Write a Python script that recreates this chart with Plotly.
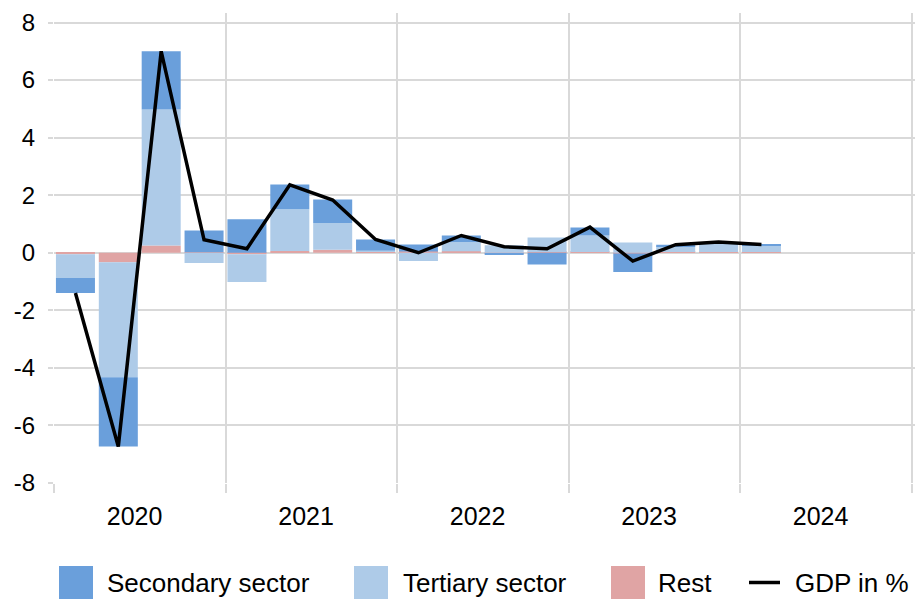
import plotly.graph_objects as go

# ---- data ----
quarters = ["2020Q1", "2020Q2", "2020Q3", "2020Q4",
            "2021Q1", "2021Q2", "2021Q3", "2021Q4",
            "2022Q1", "2022Q2", "2022Q3", "2022Q4",
            "2023Q1", "2023Q2", "2023Q3", "2023Q4",
            "2024Q1"]
secondary = [-0.52, -2.40, 2.02, 0.75, 1.16, 0.86, 0.82, 0.38,
             0.25, 0.23, -0.04, -0.41, 0.28, -0.64, 0.05, 0.01, 0.04]
tertiary = [-0.83, -4.00, 4.73, -0.36, -0.97, 1.45, 0.93, 0.04,
            -0.29, 0.32, 0.26, 0.50, 0.57, 0.36, 0.20, 0.33, 0.21]
rest = [-0.05, -0.33, 0.25, 0.02, -0.05, 0.06, 0.10, 0.04,
        0.04, 0.05, -0.02, 0.03, 0.03, -0.03, 0.03, 0.03, 0.03]
gdp = [-1.40, -6.73, 7.00, 0.45, 0.14, 2.36, 1.83, 0.46,
       0.00, 0.60, 0.21, 0.14, 0.89, -0.29, 0.28, 0.37, 0.29]

years = [2020, 2021, 2022, 2023, 2024]
year_labels = ["2020", "2021", "2022", "2023", "2024"]
y_ticks = [-8, -6, -4, -2, 0, 2, 4, 6, 8]
y_tick_labels = ["-8", "-6", "-4", "-2", "0", "2", "4", "6", "8"]
series_names = ["Secondary sector", "Tertiary sector", "Rest", "GDP in %"]

# ---- style ----
C_SEC = "#6A9FDB"
C_TER = "#AECBE8"
C_REST = "#E0A4A4"
C_GRID = "#D9D9D9"
FONT = "Liberation Sans, Arial, sans-serif"

W, H = 915, 601
ML, MR, MT, MB = 54, 0, 13, 118

x = [int(q[:4]) + (int(q[-1]) - 0.5) / 4 for q in quarters]

fig = go.Figure()
fig.add_trace(go.Bar(x=x, y=rest, name=series_names[2], marker_color=C_REST,
                     marker_line_width=0, showlegend=False))
fig.add_trace(go.Bar(x=x, y=tertiary, name=series_names[1], marker_color=C_TER,
                     marker_line_width=0, showlegend=False))
fig.add_trace(go.Bar(x=x, y=secondary, name=series_names[0], marker_color=C_SEC,
                     marker_line_width=0, showlegend=False))
fig.add_trace(go.Scatter(x=x, y=gdp, name=series_names[3], mode="lines",
                         line=dict(color="black", width=3.5), showlegend=False))

plot_w = W - ML - MR
plot_h = H - MT - MB
px_per_year = 171.5
x_end = years[0] + plot_w / px_per_year

fig.update_layout(
    width=W, height=H,
    margin=dict(l=ML, r=MR, t=MT, b=MB, autoexpand=False),
    paper_bgcolor="white", plot_bgcolor="white",
    barmode="relative", bargap=0.09,
    font=dict(family=FONT, color="black"),
    xaxis=dict(
        range=[years[0], x_end],
        tickvals=[y + 0.47 for y in years], ticktext=year_labels,
        tickfont=dict(size=25), ticks="", showgrid=False, zeroline=False,
        showline=False, ticklabelstandoff=16,
        minor=dict(tickvals=years + [years[-1] + 1], showgrid=True,
                   gridcolor=C_GRID, gridwidth=1.5, ticks="outside",
                   ticklen=9, tickcolor=C_GRID, tickwidth=1.5),
    ),
    yaxis=dict(
        range=[-8, 8.33], tickvals=y_ticks, ticktext=y_tick_labels,
        tickfont=dict(size=24), showgrid=True, gridcolor=C_GRID, gridwidth=1.5,
        zeroline=False, showline=False, ticks="outside", ticklen=5,
        tickcolor=C_GRID, tickwidth=1.5, ticklabelstandoff=8,
    ),
)

# ---- manual legend (large swatches as in the original) ----
def px_x(p):
    return (p - ML) / plot_w

def px_y(p):
    return (H - MB - p) / plot_h

leg_sq = [(59, C_SEC), (354, C_TER), (611, C_REST)]
leg_text_x = [105, 401, 656, 793]
sq_top, sq_bot, leg_cy = 566, 599, 582.5
for (x0, col) in leg_sq:
    fig.add_shape(type="rect", xref="paper", yref="paper",
                  x0=px_x(x0), x1=px_x(x0 + 34), y0=px_y(sq_bot), y1=px_y(sq_top),
                  fillcolor=col, line_width=0, layer="above")
fig.add_shape(type="line", xref="paper", yref="paper",
              x0=px_x(749), x1=px_x(780), y0=px_y(leg_cy), y1=px_y(leg_cy),
              line=dict(color="black", width=3.5))
for tx, name in zip(leg_text_x, series_names):
    fig.add_annotation(text=name, xref="paper", yref="paper",
                       x=px_x(tx), y=px_y(leg_cy), xanchor="left", yanchor="middle",
                       showarrow=False, font=dict(size=26, color="black"))

fig.write_html("out.html",
               config={"displayModeBar": False},
               post_script="document.body.style.margin='0';"
                           "document.body.style.overflow='hidden';")
